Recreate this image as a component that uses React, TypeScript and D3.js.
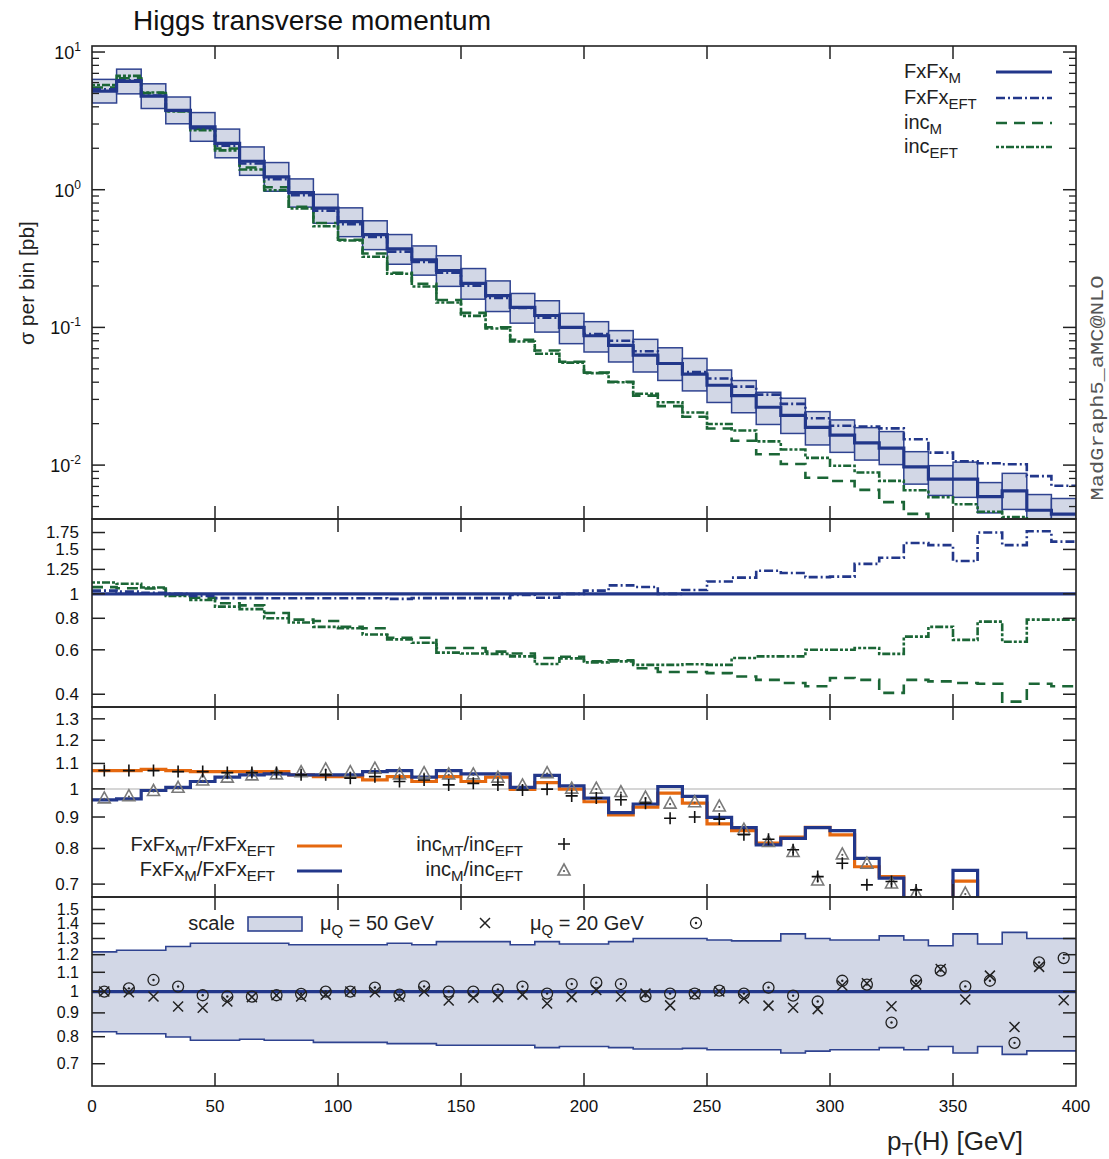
import React from "react";
import * as d3 from "d3";

// 10 GeV bins from 0 to 400 GeV (lower edges)
const binLow = [0, 10, 20, 30, 40, 50, 60, 70, 80, 90, 100, 110, 120, 130, 140, 150, 160, 170, 180, 190,
  200, 210, 220, 230, 240, 250, 260, 270, 280, 290, 300, 310, 320, 330, 340, 350, 360, 370, 380, 390];

// top panel: FxFx_M cross section per bin [pb]
const fxfxM = [5.2, 6.12, 4.79, 3.77, 2.86, 2.17, 1.61, 1.24, 0.951, 0.734, 0.586, 0.472, 0.372, 0.31, 0.259,
  0.209, 0.17, 0.14, 0.122, 0.1, 0.087, 0.074, 0.063, 0.0547, 0.0458, 0.038, 0.032, 0.0263, 0.023, 0.0188,
  0.0165, 0.0145, 0.0133, 0.0097, 0.0079, 0.0079, 0.0059, 0.0065, 0.0047, 0.0044];

// scale band relative to FxFx_M (bottom panel)
const scaleUp = [1.217, 1.227, 1.227, 1.25, 1.27, 1.27, 1.27, 1.27, 1.26, 1.26, 1.26, 1.26, 1.27, 1.26, 1.28,
  1.28, 1.28, 1.26, 1.28, 1.265, 1.265, 1.28, 1.3, 1.3, 1.3, 1.29, 1.285, 1.285, 1.33, 1.3, 1.29, 1.29, 1.317,
  1.29, 1.254, 1.33, 1.265, 1.34, 1.3, 1.3];
const scaleDown = [0.82, 0.812, 0.812, 0.799, 0.786, 0.786, 0.79, 0.786, 0.786, 0.778, 0.778, 0.778, 0.773,
  0.773, 0.767, 0.767, 0.767, 0.767, 0.758, 0.762, 0.762, 0.758, 0.753, 0.753, 0.755, 0.75, 0.75, 0.75, 0.738,
  0.745, 0.75, 0.75, 0.758, 0.75, 0.762, 0.738, 0.762, 0.733, 0.746, 0.746];

// second panel: ratios to FxFx_M
const eftOverM = [1.03, 1.02, 1.01, 1.0, 0.98, 0.962, 0.962, 0.96, 0.96, 0.96, 0.96, 0.96, 0.955, 0.962, 0.962,
  0.962, 0.962, 0.99, 0.965, 1.0, 1.03, 1.08, 1.065, 1.0, 1.035, 1.12, 1.16, 1.235, 1.21, 1.165, 1.17, 1.315,
  1.39, 1.59, 1.56, 1.35, 1.75, 1.56, 1.77, 1.61];
const incMOverM = [1.063, 1.053, 1.05, 0.99, 0.965, 0.918, 0.9, 0.84, 0.79, 0.78, 0.74, 0.73, 0.67, 0.67, 0.61,
  0.61, 0.59, 0.58, 0.557, 0.563, 0.54, 0.545, 0.507, 0.49, 0.49, 0.485, 0.47, 0.456, 0.443, 0.43, 0.464, 0.456,
  0.405, 0.456, 0.45, 0.443, 0.44, 0.374, 0.44, 0.43];
const incEftOverM = [1.109, 1.096, 1.06, 0.98, 0.945, 0.89, 0.87, 0.8, 0.77, 0.74, 0.73, 0.69, 0.66, 0.64, 0.585,
  0.58, 0.578, 0.565, 0.527, 0.555, 0.535, 0.54, 0.523, 0.523, 0.526, 0.523, 0.557, 0.565, 0.565, 0.6, 0.6, 0.61,
  0.578, 0.677, 0.74, 0.657, 0.776, 0.646, 0.79, 0.79];

// third panel: ratios to the EFT predictions
const mtOverEft = [1.071, 1.071, 1.076, 1.071, 1.067, 1.067, 1.067, 1.067, 1.054, 1.047, 1.047, 1.034, 1.047,
  1.028, 1.047, 1.028, 1.045, 0.998, 1.024, 0.999, 0.953, 0.907, 0.934, 0.984, 0.948, 0.877, 0.855, 0.816, 0.835,
  0.866, 0.842, 0.747, 0.72, 0.62, 0.63, 0.708, 0.58, 0.63, 0.57, 0.61];
const mOverEft = [0.96, 0.963, 0.994, 1.006, 1.028, 1.045, 1.054, 1.058, 1.054, 1.054, 1.054, 1.067, 1.071,
  1.045, 1.071, 1.058, 1.058, 1.006, 1.052, 1.011, 0.966, 0.915, 0.945, 1.009, 0.972, 0.899, 0.865, 0.811, 0.831,
  0.865, 0.855, 0.771, 0.716, 0.63, 0.64, 0.737, 0.57, 0.64, 0.565, 0.62];
const incMtOverEft = [1.071, 1.071, 1.071, 1.067, 1.067, 1.063, 1.063, 1.063, 1.054, 1.054, 1.041, 1.047, 1.028,
  1.034, 1.015, 1.021, 1.015, 0.996, 0.999, 0.974, 0.966, 0.96, 0.948, 0.896, 0.9, 0.893, 0.842, 0.828, 0.796,
  0.72, 0.757, 0.698, 0.707, 0.685, 0.62, 0.6, 0.58, 0.6, 0.58, 0.6];
const incMOverEft = [0.967, 0.975, 0.994, 1.006, 1.034, 1.045, 1.054, 1.058, 1.067, 1.078, 1.067, 1.081, 1.058,
  1.063, 1.058, 1.058, 1.045, 1.015, 1.063, 1.003, 1.003, 0.99, 0.97, 0.948, 0.953, 0.938, 0.86, 0.821, 0.791,
  0.711, 0.784, 0.757, 0.703, 0.677, 0.63, 0.677, 0.6, 0.6, 0.58, 0.6];

// bottom panel: other shower scales relative to FxFx_M
const mu50 = [1.0, 0.997, 0.976, 0.929, 0.923, 0.952, 0.973, 0.982, 0.976, 0.985, 1.0, 0.997, 0.975, 1.0, 0.957,
  0.97, 0.973, 0.985, 0.943, 0.973, 1.008, 0.976, 0.99, 0.934, 0.987, 1.0, 0.966, 0.933, 0.923, 0.917, 1.03,
  1.042, 0.93, 1.035, 1.118, 0.962, 1.082, 0.839, 1.13, 0.958];
const mu20 = [1.0, 1.016, 1.059, 1.025, 0.982, 0.976, 0.975, 0.982, 0.989, 1.0, 1.0, 1.02, 0.985, 1.026, 1.0,
  1.0, 1.01, 1.025, 0.99, 1.038, 1.045, 1.038, 0.977, 0.99, 0.99, 1.005, 0.99, 1.02, 0.98, 0.952, 1.055, 1.035,
  0.858, 1.055, 1.109, 1.026, 1.055, 0.776, 1.155, 1.18];

const xTicks = [0, 50, 100, 150, 200, 250, 300, 350, 400];
const p1Decades = [-2, -1, 0, 1];
const p2Ticks = [1.75, 1.5, 1.25, 1, 0.8, 0.6, 0.4];
const p3Ticks = [1.3, 1.2, 1.1, 1, 0.9, 0.8, 0.7];
const p4Ticks = [1.5, 1.4, 1.3, 1.2, 1.1, 1, 0.9, 0.8, 0.7];

const BLUE = "#22378a";
const GREEN = "#1b6636";
const ORANGE = "#e5680f";
const BAND = "#d2d7e6";
const BANDLINE = "#2f4390";
const FONT = "'Liberation Sans', Arial, Helvetica, sans-serif";

const L = 92;
const R = 1076;
const x = d3.scaleLinear().domain([0, 400]).range([L, R]);
const y1 = d3.scaleLog().domain([0.00406, 11.06]).range([519, 46]);
const y2 = d3.scaleLog().domain([0.356, 1.98]).range([707, 519]);
const y3 = d3.scaleLog().domain([0.667, 1.359]).range([897, 707]);
const y4 = d3.scaleLog().domain([0.627, 1.596]).range([1086, 897]);

const step = (vals: number[], ys: any) =>
  d3
    .line<[number, number]>()
    .x((d) => x(d[0]))
    .y((d) => ys(d[1]))
    .curve(d3.curveStepAfter)([
    ...binLow.map((b, i) => [b, vals[i]] as [number, number]),
    [400, vals[vals.length - 1]],
  ]) as string;

const mid = (i: number) => x(binLow[i] + 5);
const inRange = (ys: any, v: number) => {
  const [a, b] = ys.domain();
  return v > a && v < b;
};

const fxfxEFT = fxfxM.map((v, i) => v * eftOverM[i]);
const incM = fxfxM.map((v, i) => v * incMOverM[i]);
const incEFT = fxfxM.map((v, i) => v * incEftOverM[i]);

const Plus = ({ cx, cy }: any) => (
  <path d={`M${cx - 6},${cy}H${cx + 6}M${cx},${cy - 6}V${cy + 6}`} stroke="#111" strokeWidth={1.6} />
);
const Cross = ({ cx, cy }: any) => (
  <path d={`M${cx - 5},${cy - 5}L${cx + 5},${cy + 5}M${cx - 5},${cy + 5}L${cx + 5},${cy - 5}`} stroke="#222" strokeWidth={1.5} />
);
const Tri = ({ cx, cy }: any) => (
  <g>
    <path d={`M${cx},${cy - 6}L${cx + 6},${cy + 5}L${cx - 6},${cy + 5}Z`} fill="none" stroke="#7a7a7a" strokeWidth={1.6} />
    <circle cx={cx} cy={cy + 1} r={1.1} fill="#555" />
  </g>
);
const ODot = ({ cx, cy }: any) => (
  <g>
    <circle cx={cx} cy={cy} r={5.5} fill="none" stroke="#222" strokeWidth={1.3} />
    <circle cx={cx} cy={cy} r={1.2} fill="#222" />
  </g>
);

function Frame({ top, bottom, ys, ticks, labels, minor, fs }: any) {
  return (
    <g>
      <rect x={L} y={top} width={R - L} height={bottom - top} fill="none" stroke="#222" strokeWidth={1.6} />
      {xTicks.slice(1, -1).map((t) => (
        <g key={t}>
          <line x1={x(t)} x2={x(t)} y1={top} y2={top + 13} stroke="#222" strokeWidth={1.5} />
          <line x1={x(t)} x2={x(t)} y1={bottom} y2={bottom - 13} stroke="#222" strokeWidth={1.5} />
        </g>
      ))}
      {ticks.map((t: number) => (
        <g key={"t" + t}>
          <line x1={L} x2={L + 13} y1={ys(t)} y2={ys(t)} stroke="#222" strokeWidth={1.5} />
          <line x1={R} x2={R - 13} y1={ys(t)} y2={ys(t)} stroke="#222" strokeWidth={1.5} />
        </g>
      ))}
      {(minor || []).map((t: number) => (
        <g key={"m" + t}>
          <line x1={L} x2={L + 7} y1={ys(t)} y2={ys(t)} stroke="#222" strokeWidth={1.3} />
          <line x1={R} x2={R - 7} y1={ys(t)} y2={ys(t)} stroke="#222" strokeWidth={1.3} />
        </g>
      ))}
      {labels &&
        ticks.map((t: number) => (
          <text key={"l" + t} x={79} y={ys(t) + (fs || 17) * 0.35} textAnchor="end" fontSize={fs || 17} fill="#111">
            {String(t)}
          </text>
        ))}
    </g>
  );
}

export default function App() {
  const majors1 = p1Decades.map((d) => Math.pow(10, d));
  const minors1: number[] = [];
  [-3, -2, -1, 0, 1].forEach((d) => {
    [2, 3, 4, 5, 6, 7, 8, 9].forEach((k) => {
      const v = k * Math.pow(10, d);
      if (inRange(y1, v)) minors1.push(v);
    });
  });

  return (
    <div style={{ position: "absolute", left: 0, top: 0 }}>
      <svg width={1109} height={1159} fontFamily={FONT} style={{ display: "block", background: "#fff" }}>
        <defs>
          <clipPath id="c1"><rect x={L} y={46} width={R - L} height={519 - 46} /></clipPath>
          <clipPath id="c2"><rect x={L} y={519} width={R - L} height={707 - 519} /></clipPath>
          <clipPath id="c3"><rect x={L} y={707} width={R - L} height={897 - 707} /></clipPath>
          <clipPath id="c4"><rect x={L} y={897} width={R - L} height={1086 - 897} /></clipPath>
        </defs>

        <text x={312} y={30} textAnchor="middle" fontSize={28} fill="#111">Higgs transverse momentum</text>

        {/* panel 1 */}
        <g clipPath="url(#c1)">
          {binLow.map((b, i) => (
            <rect
              key={b}
              x={x(b)}
              width={x(b + 10) - x(b)}
              y={y1(fxfxM[i] * scaleUp[i])}
              height={y1(fxfxM[i] * scaleDown[i]) - y1(fxfxM[i] * scaleUp[i])}
              fill={BAND}
              stroke={BANDLINE}
              strokeWidth={1.5}
            />
          ))}
          <path d={step(incM, y1)} fill="none" stroke={GREEN} strokeWidth={2.6} strokeDasharray="11,7" />
          <path d={step(incEFT, y1)} fill="none" stroke={GREEN} strokeWidth={2.6} strokeDasharray="3,2,3,2,8,2" />
          <path d={step(fxfxEFT, y1)} fill="none" stroke={BLUE} strokeWidth={2.6} strokeDasharray="9,3,2,3" />
          <path d={step(fxfxM, y1)} fill="none" stroke={BLUE} strokeWidth={3.2} />
        </g>
        <Frame top={46} bottom={519} ys={y1} ticks={majors1} minor={minors1} />
        {p1Decades.map((d) => (
          <text key={d} x={81} y={y1(Math.pow(10, d)) + 7} textAnchor="end" fontSize={18} fill="#111">
            10<tspan dy={-8} fontSize={12}>{String(d)}</tspan>
          </text>
        ))}
        {/* legend panel 1 */}
        {[
          { main: "FxFx", sub: "M", y: 72, c: BLUE, dash: undefined, w: 3.2 },
          { main: "FxFx", sub: "EFT", y: 98, c: BLUE, dash: "9,3,2,3", w: 2.6 },
          { main: "inc", sub: "M", y: 123, c: GREEN, dash: "11,7", w: 2.6 },
          { main: "inc", sub: "EFT", y: 147, c: GREEN, dash: "3,2,3,2,8,2", w: 2.6 },
        ].map((e) => (
          <g key={e.main + e.sub}>
            <text x={904} y={e.y + 6} fontSize={20} fill="#222">
              {e.main}
              <tspan dy={5} fontSize={15}>{e.sub}</tspan>
            </text>
            <line x1={996} x2={1052} y1={e.y} y2={e.y} stroke={e.c} strokeWidth={e.w} strokeDasharray={e.dash} />
          </g>
        ))}

        {/* panel 2 */}
        <g clipPath="url(#c2)">
          <path d={step(incMOverM, y2)} fill="none" stroke={GREEN} strokeWidth={2.6} strokeDasharray="11,7" />
          <path d={step(incEftOverM, y2)} fill="none" stroke={GREEN} strokeWidth={2.6} strokeDasharray="3,2,3,2,8,2" />
          <path d={step(eftOverM, y2)} fill="none" stroke={BLUE} strokeWidth={2.6} strokeDasharray="9,3,2,3" />
          <path d={step(fxfxM.map((v) => v / v), y2)} fill="none" stroke={BLUE} strokeWidth={3.2} />
        </g>
        <Frame top={519} bottom={707} ys={y2} ticks={p2Ticks} labels />

        {/* panel 3 */}
        <g clipPath="url(#c3)">
          <line x1={L} x2={R} y1={y3(1)} y2={y3(1)} stroke="#c8c8c8" strokeWidth={1.5} />
          <path d={step(mtOverEft, y3)} fill="none" stroke={ORANGE} strokeWidth={3.2} />
          <path d={step(mOverEft, y3)} fill="none" stroke={BLUE} strokeWidth={3.2} />
          {incMOverEft.map((v, i) => (inRange(y3, v) ? <Tri key={"t" + i} cx={mid(i)} cy={y3(v)} /> : null))}
          {incMtOverEft.map((v, i) => (inRange(y3, v) ? <Plus key={"p" + i} cx={mid(i)} cy={y3(v)} /> : null))}
        </g>
        <Frame top={707} bottom={897} ys={y3} ticks={p3Ticks} labels />
        <text x={275} y={851} textAnchor="end" fontSize={20} fill="#222">
          FxFx<tspan dy={5} fontSize={15}>MT</tspan>
          <tspan dy={-5}>/FxFx</tspan>
          <tspan dy={5} fontSize={15}>EFT</tspan>
        </text>
        <line x1={297} x2={342} y1={846} y2={846} stroke={ORANGE} strokeWidth={3.2} />
        <text x={275} y={876} textAnchor="end" fontSize={20} fill="#222">
          FxFx<tspan dy={5} fontSize={15}>M</tspan>
          <tspan dy={-5}>/FxFx</tspan>
          <tspan dy={5} fontSize={15}>EFT</tspan>
        </text>
        <line x1={297} x2={342} y1={871} y2={871} stroke={BLUE} strokeWidth={3.2} />
        <text x={523} y={851} textAnchor="end" fontSize={20} fill="#222">
          inc<tspan dy={5} fontSize={15}>MT</tspan>
          <tspan dy={-5}>/inc</tspan>
          <tspan dy={5} fontSize={15}>EFT</tspan>
        </text>
        <Plus cx={564} cy={844} />
        <text x={523} y={876} textAnchor="end" fontSize={20} fill="#222">
          inc<tspan dy={5} fontSize={15}>M</tspan>
          <tspan dy={-5}>/inc</tspan>
          <tspan dy={5} fontSize={15}>EFT</tspan>
        </text>
        <Tri cx={564} cy={870} />

        {/* panel 4 */}
        <g clipPath="url(#c4)">
          <path
            d={
              (d3
                .area<number>()
                .x((_, i) => x(i < binLow.length ? binLow[i] : 400))
                .y0((_, i) => y4(scaleDown[Math.min(i, binLow.length - 1)]))
                .y1((_, i) => y4(scaleUp[Math.min(i, binLow.length - 1)]))
                .curve(d3.curveStepAfter)([...binLow, 400]) as string)
            }
            fill={BAND}
          />
          <path d={step(scaleUp, y4)} fill="none" stroke={BANDLINE} strokeWidth={1.6} />
          <path d={step(scaleDown, y4)} fill="none" stroke={BANDLINE} strokeWidth={1.6} />
          <path d={step(fxfxM.map((v) => v / v), y4)} fill="none" stroke={BLUE} strokeWidth={3.2} />
          {mu50.map((v, i) => (inRange(y4, v) ? <Cross key={"x" + i} cx={mid(i)} cy={y4(v)} /> : null))}
          {mu20.map((v, i) => (inRange(y4, v) ? <ODot key={"o" + i} cx={mid(i)} cy={y4(v)} /> : null))}
        </g>
        <Frame top={897} bottom={1086} ys={y4} ticks={p4Ticks} labels fs={16} />
        <text x={235} y={930} textAnchor="end" fontSize={20} fill="#222">scale</text>
        <rect x={248} y={917} width={54} height={14} fill={BAND} stroke={BANDLINE} strokeWidth={1.6} />
        <text x={320} y={930} fontSize={20} fill="#222">
          μ<tspan dy={5} fontSize={15}>Q</tspan>
          <tspan dy={-5}> = 50 GeV</tspan>
        </text>
        <Cross cx={485} cy={923} />
        <text x={530} y={930} fontSize={20} fill="#222">
          μ<tspan dy={5} fontSize={15}>Q</tspan>
          <tspan dy={-5}> = 20 GeV</tspan>
        </text>
        <ODot cx={696} cy={923} />

        {/* x axis labels */}
        {xTicks.map((t) => (
          <text key={t} x={x(t)} y={1112} textAnchor="middle" fontSize={17} fill="#111">{t}</text>
        ))}
        <text x={955} y={1150} textAnchor="middle" fontSize={26} fill="#222">
          p<tspan dy={6} fontSize={19}>T</tspan>
          <tspan dy={-6}>(H) [GeV]</tspan>
        </text>
        <text transform="translate(34,283) rotate(-90)" textAnchor="middle" fontSize={21} fill="#222">
          σ per bin [pb]
        </text>
        <text
          transform="translate(1103,388) rotate(-90)"
          textAnchor="middle"
          fontSize={19}
          fontFamily="'Liberation Mono', 'DejaVu Sans Mono', monospace"
          fill="#555"
          textLength={225}
          lengthAdjust="spacingAndGlyphs"
        >
          MadGraph5_aMC@NLO
        </text>
      </svg>
    </div>
  );
}
